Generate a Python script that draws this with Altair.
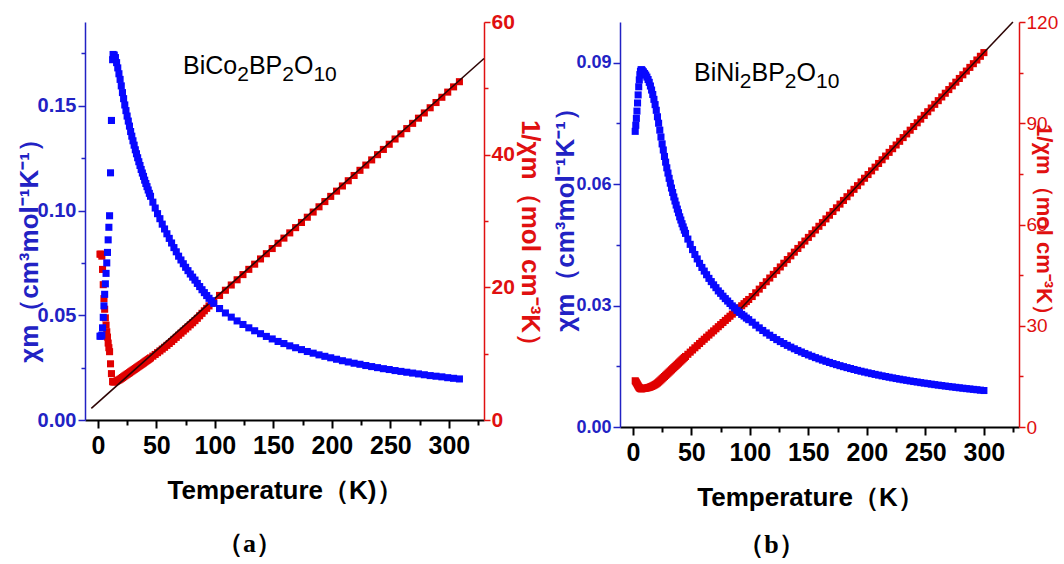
import altair as alt
import pandas as pd

# ---------------- (a) BiCo2BP2O10 ----------------
co_T = ([1.8, 2.6, 3.4, 4.0, 4.6, 5.2, 5.8, 6.4, 7.0, 7.6, 8.2, 8.8, 9.4, 10.0, 10.8, 11.6, 12.6]
        + list(range(13, 46)) + list(range(47, 100, 2)) + list(range(104, 310, 5)))
co_chi = [0.0400, 0.0400, 0.0405, 0.0440, 0.0490, 0.0545, 0.0600, 0.0650, 0.0700, 0.0750,
          0.0800, 0.0860, 0.0920, 0.0975, 0.1180, 0.1430, 0.1720,
          0.1745, 0.1742, 0.1730, 0.1706, 0.1681, 0.1653, 0.1626, 0.1595, 0.1563, 0.1534,
          0.1504, 0.1477, 0.1451, 0.1427, 0.1403, 0.1377, 0.1355, 0.1333, 0.1312, 0.1290,
          0.1271, 0.1252, 0.1233, 0.1215, 0.1196, 0.1179, 0.1163, 0.1145, 0.1129, 0.1114,
          0.1098, 0.1082, 0.1068,
          0.1040, 0.1012, 0.0985, 0.0961, 0.0935, 0.0912, 0.0889, 0.0867, 0.0845, 0.0823,
          0.0803, 0.0782, 0.0764, 0.0746, 0.0729, 0.0713, 0.0697, 0.0682, 0.0668, 0.0652,
          0.0637, 0.0622, 0.0608, 0.0594, 0.0581, 0.0569, 0.0557,
          0.0532, 0.0511, 0.0491, 0.0473, 0.0456, 0.0440, 0.0426, 0.0412, 0.0399, 0.0387,
          0.0375, 0.0365, 0.0354, 0.0345, 0.0336, 0.0327, 0.0319, 0.0311, 0.0304, 0.0297,
          0.0290, 0.0283, 0.0277, 0.0271, 0.0266, 0.0260, 0.0255, 0.0250, 0.0245, 0.0241,
          0.0236, 0.0232, 0.0228, 0.0224, 0.0220, 0.0216, 0.0212, 0.0209, 0.0206, 0.0202,
          0.0199, 0.0196]
co_inv = [25.0, 25.0, 24.7, 22.7, 20.4, 18.3, 16.7, 15.4, 14.3, 13.3,
          12.5, 11.6, 10.9, 10.3, 8.47, 6.99, 5.81,
          5.73, 5.74, 5.78, 5.86, 5.95, 6.05, 6.15, 6.27, 6.40, 6.52,
          6.65, 6.77, 6.89, 7.01, 7.13, 7.26, 7.38, 7.50, 7.62, 7.75,
          7.87, 7.99, 8.11, 8.23, 8.36, 8.48, 8.60, 8.73, 8.86, 8.98,
          9.11, 9.24, 9.36,
          9.62, 9.88, 10.15, 10.41, 10.69, 10.96, 11.25, 11.54, 11.83, 12.15,
          12.46, 12.78, 13.09, 13.41, 13.72, 14.03, 14.35, 14.66, 14.98, 15.33,
          15.71, 16.08, 16.46, 16.83, 17.20, 17.58, 17.94,
          18.78, 19.56, 20.35, 21.14, 21.92, 22.71, 23.49, 24.28, 25.07, 25.85,
          26.64, 27.42, 28.21, 29.00, 29.78, 30.57, 31.35, 32.14, 32.93, 33.71,
          34.50, 35.28, 36.07, 36.86, 37.64, 38.43, 39.21, 40.00, 40.79, 41.57,
          42.36, 43.14, 43.93, 44.72, 45.50, 46.29, 47.07, 47.86, 48.65, 49.43,
          50.22, 51.00]
co_fit_T = [-5.6, 330.0]
co_fit_inv = [1.75, 54.5]

# ---------------- (b) BiNi2BP2O10 ----------------
ni_T = ([2.0, 2.5, 3.0, 3.5, 4.0, 4.5, 5.0, 5.5, 6.0, 6.5, 7.0, 7.5, 8.0]
        + list(range(9, 46)) + list(range(47, 100, 2)) + list(range(102, 301, 3)))
ni_chi = [0.0730, 0.0745, 0.0762, 0.0780, 0.0800, 0.0820, 0.0840, 0.0857, 0.0870, 0.0878,
          0.0882, 0.0882, 0.0880,
          0.0877, 0.0873, 0.0869, 0.0864, 0.0858, 0.0851, 0.0842, 0.0832, 0.0821, 0.0809,
          0.0796, 0.0782, 0.0766, 0.0750, 0.0733, 0.0716, 0.0699, 0.0684, 0.0668, 0.0654,
          0.0640, 0.0627, 0.0614, 0.0602, 0.0590, 0.0579, 0.0568, 0.0558, 0.0548, 0.0538,
          0.0529, 0.0519, 0.0511, 0.0502, 0.0494, 0.0486, 0.0478,
          0.0464, 0.0451, 0.0438, 0.0426, 0.0415, 0.0404, 0.0394, 0.0385, 0.0376, 0.0367,
          0.0359, 0.0351, 0.0344, 0.0336, 0.0330, 0.0323, 0.0317, 0.0311, 0.0305, 0.0299,
          0.0294, 0.0288, 0.0283, 0.0278, 0.0274, 0.0269, 0.0265,
          0.02587, 0.02515, 0.02448, 0.02384, 0.02323, 0.02266, 0.02211, 0.02158, 0.02109, 0.02061,
          0.02016, 0.01972, 0.01931, 0.01890, 0.01852, 0.01815, 0.01780, 0.01746, 0.01713, 0.01682,
          0.01651, 0.01622, 0.01594, 0.01566, 0.01540, 0.01514, 0.01490, 0.01466, 0.01443, 0.01420,
          0.01398, 0.01377, 0.01357, 0.01337, 0.01318, 0.01299, 0.01281, 0.01263, 0.01246, 0.01229,
          0.01213, 0.01197, 0.01181, 0.01166, 0.01152, 0.01137, 0.01123, 0.01110, 0.01096, 0.01083,
          0.01071, 0.01058, 0.01046, 0.01034, 0.01023, 0.01011, 0.01000, 0.00989, 0.00979, 0.00968,
          0.00958, 0.00948, 0.00939, 0.00929, 0.00920, 0.00910, 0.00901]
ni_inv = [13.70, 13.42, 13.12, 12.82, 12.50, 12.20, 11.90, 11.67, 11.49, 11.39,
          11.34, 11.34, 11.36,
          11.40, 11.46, 11.51, 11.57, 11.66, 11.75, 11.88, 12.02, 12.18, 12.36,
          12.56, 12.79, 13.05, 13.34, 13.65, 13.97, 14.30, 14.63, 14.96, 15.29,
          15.62, 15.95, 16.28, 16.61, 16.94, 17.27, 17.60, 17.93, 18.26, 18.59,
          18.92, 19.25, 19.58, 19.91, 20.24, 20.57, 20.90,
          21.54, 22.18, 22.82, 23.46, 24.10, 24.74, 25.38, 26.00, 26.62, 27.24,
          27.86, 28.48, 29.10, 29.72, 30.34, 30.96, 31.58, 32.20, 32.82, 33.44,
          34.06, 34.68, 35.30, 35.92, 36.54, 37.16, 37.78,
          38.66, 39.76, 40.85, 41.95, 43.04, 44.14, 45.23, 46.33, 47.42, 48.52,
          49.61, 50.71, 51.80, 52.90, 53.99, 55.09, 56.18, 57.28, 58.37, 59.47,
          60.56, 61.66, 62.75, 63.85, 64.94, 66.04, 67.13, 68.23, 69.32, 70.42,
          71.51, 72.61, 73.70, 74.80, 75.89, 76.99, 78.08, 79.18, 80.27, 81.37,
          82.46, 83.56, 84.65, 85.75, 86.84, 87.94, 89.03, 90.13, 91.22, 92.32,
          93.41, 94.51, 95.60, 96.70, 97.79, 98.89, 99.98, 101.08, 102.17, 103.27,
          104.36, 105.46, 106.55, 107.65, 108.74, 109.84, 110.93]
ni_fit_T = [90.0, 324.8]
ni_fit_inv = [34.3, 120.0]

# ---------------- ticks ----------------
x_major = [0, 50, 100, 150, 200, 250, 300]
x_minor = [25, 75, 125, 175, 225, 275, 325]
co_chi_major = [0.0, 0.05, 0.10, 0.15]
co_chi_minor = [0.025, 0.075, 0.125, 0.175]
co_inv_major = [0, 20, 40, 60]
co_inv_minor = [10, 30, 50]
ni_chi_major = [0.0, 0.03, 0.06, 0.09]
ni_chi_minor = [0.015, 0.045, 0.075]
ni_inv_major = [0, 30, 60, 90, 120]
ni_inv_minor = [15, 45, 75, 105]

SANS = "Liberation Sans, Arial, sans-serif"
BLUE_AX = "#2222c4"
RED_AX = "#e01010"
BLUE_PT = "#0808ff"
RED_PT = "#e00000"
FIT = "#2e0505"


def panel(T, chi, inv, fit_T, fit_inv, chi_dom, chi_major, chi_minor, inv_dom, inv_major,
          inv_minor, height, xtitle, xtitle_x, left_title, right_title, left_lab, right_lab,
          right_weight, left_tpad, right_tpad, right_tsize, left_ty, right_ty, pieces,
          caption, cap_dx, cap_off):
    df = pd.DataFrame({"T": T, "chi": chi, "inv": inv})
    fit = pd.DataFrame({"T": fit_T, "inv": fit_inv})
    one = pd.DataFrame({"k": [0]})
    xs = alt.Scale(domain=[-11, 330], nice=False, zero=False)
    cs = alt.Scale(domain=chi_dom, nice=False, zero=False)
    iscale = alt.Scale(domain=inv_dom, nice=False, zero=False)

    xaxis_kw = dict(orient="bottom", values=x_major, title=xtitle, grid=False,
                    domainColor="black", domainWidth=2, tickColor="black", tickWidth=2,
                    tickSize=8, labelFont=SANS, labelFontSize=25, labelFontWeight="bold",
                    labelColor="black", labelPadding=5, titleFont=SANS,
                    titleFontSize=26, titleFontWeight="bold", titleColor="black",
                    titlePadding=19)
    if xtitle_x is not None:
        xaxis_kw["titleX"] = xtitle_x
    x_major_axis = alt.Axis(**xaxis_kw)
    x_minor_axis = alt.Axis(orient="bottom", values=x_minor, labels=False, domain=False,
                            title=None, grid=False, tickColor="black", tickWidth=2,
                            tickSize=5)

    left_kw = dict(orient="left", values=chi_major, format=".2f", title=left_title,
                   grid=False, domainColor=BLUE_AX, domainWidth=1.5, tickColor=BLUE_AX,
                   tickWidth=1.5, tickSize=7, labelColor=BLUE_AX, labelFont=SANS,
                   labelFontSize=left_lab, labelFontWeight="bold", labelPadding=2,
                   titleColor=BLUE_AX, titleFont=SANS, titleFontSize=26,
                   titleFontWeight="bold", titlePadding=left_tpad, titleY=left_ty)
    left_minor = alt.Axis(orient="left", values=chi_minor, labels=False, domain=False,
                          title=None, grid=False, tickColor=BLUE_AX, tickWidth=1.5,
                          tickSize=4)
    right_kw = dict(orient="right", values=inv_major, format="d", title=right_title,
                    grid=False, domainColor=RED_AX, domainWidth=1.5, tickColor=RED_AX,
                    tickWidth=1.5, tickSize=6, labelColor=RED_AX, labelFont=SANS,
                    labelFontSize=right_lab, labelFontWeight=right_weight, labelPadding=1,
                    titleColor=RED_AX, titleFont=SANS, titleFontSize=right_tsize,
                    titleFontWeight="bold", titlePadding=right_tpad)
    if right_ty is not None:
        right_kw["titleY"] = right_ty
    right_minor = alt.Axis(orient="right", values=inv_minor, labels=False, domain=False,
                           title=None, grid=False, tickColor=RED_AX, tickWidth=1.5,
                           tickSize=4)

    red = alt.Chart(df).mark_square(size=50, color=RED_PT, opacity=1).encode(
        x=alt.X("T:Q", scale=xs, axis=x_major_axis),
        y=alt.Y("inv:Q", scale=iscale, axis=alt.Axis(**right_kw)),
    )
    fitline = alt.Chart(fit).mark_line(color=FIT, strokeWidth=1.6).encode(
        x=alt.X("T:Q", scale=xs, axis=x_minor_axis),
        y=alt.Y("inv:Q", scale=iscale, axis=right_minor),
    )
    blue = alt.Chart(df).mark_square(size=50, color=BLUE_PT, opacity=1).encode(
        x=alt.X("T:Q", scale=xs, axis=None),
        y=alt.Y("chi:Q", scale=cs, axis=alt.Axis(**left_kw)),
    )
    ghost = alt.Chart(df).mark_square(size=1, opacity=0).encode(
        x=alt.X("T:Q", scale=xs, axis=None),
        y=alt.Y("chi:Q", scale=cs, axis=left_minor),
    )
    texts = []
    for s, px, py, fs in pieces:
        texts.append(
            alt.Chart(one).mark_text(font=SANS, fontSize=fs, color="black", align="left",
                                     baseline="alphabetic").encode(
                x=alt.value(px), y=alt.value(py), text=alt.value(s))
        )
    return alt.layer(red, fitline, blue, ghost, *texts).resolve_scale(
        y="independent").resolve_axis(x="independent", y="independent").properties(
        width=399, height=height,
        title=alt.TitleParams(text=caption, orient="bottom", anchor="middle",
                              font="Liberation Serif, serif", fontSize=26,
                              fontWeight="bold", color="black", dx=cap_dx, offset=cap_off))


co_pieces = [("BiCo", 98, 52, 25), ("2", 152.2, 59, 21), ("BP", 163.9, 52, 25),
             ("2", 197.2, 59, 21), ("O", 208.9, 52, 25), ("10", 228.4, 59, 21)]
ni_pieces = [("BiNi", 74, 59, 25), ("2", 119.8, 66, 21), ("BP", 131.5, 59, 25),
             ("2", 164.8, 66, 21), ("O", 176.5, 59, 25), ("10", 196, 66, 21)]

left = panel(co_T, co_chi, co_inv, co_fit_T, co_fit_inv, [0, 0.19], co_chi_major,
             co_chi_minor, [0, 60], co_inv_major, co_inv_minor, 398,
             "Temperature（K)）", None,
             "χm（cm³mol⁻¹K⁻¹）", "1/χm（mol cm⁻³K）", 20, 21, "bold",
             -5, 2, 26, 222, 217, co_pieces, "（a）", -35, 28)
right = panel(ni_T, ni_chi, ni_inv, ni_fit_T, ni_fit_inv, [0, 0.1], ni_chi_major,
              ni_chi_minor, [0, 120], ni_inv_major, ni_inv_minor, 405,
              "Temperature（K）", 190,
              "χm（cm³mol⁻¹K⁻¹）", "1/χm（mol cm⁻³K）", 18, 19, "normal",
              -3, -26, 22, 191, None, ni_pieces, "（b）", -48, 22)

chart = alt.hconcat(left, right, spacing=9).properties(
    padding={"left": 16, "top": 11, "right": 0, "bottom": 0},
    background="white",
).configure_view(stroke=None)

chart.save("out.html", embed_options={"renderer": "svg", "actions": False})
